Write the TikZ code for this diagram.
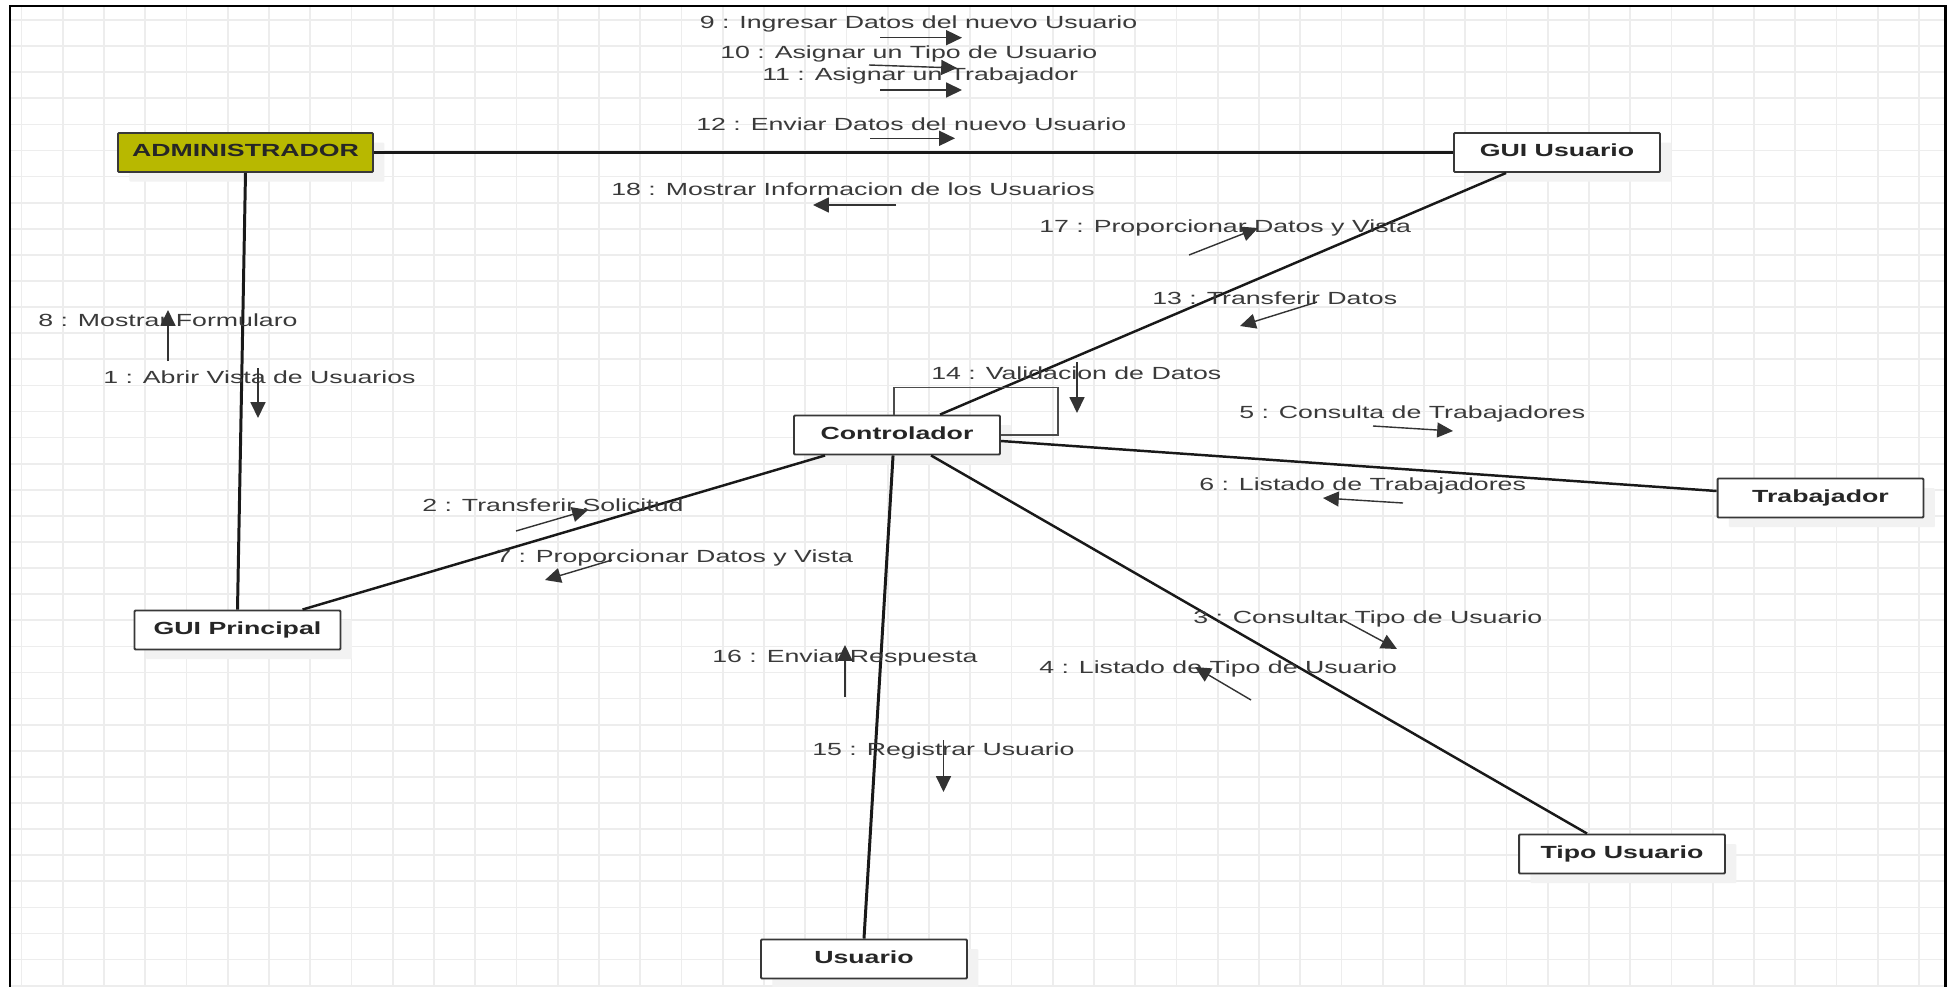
\documentclass[tikz,border=0pt]{standalone}
\usepackage{fontspec}
\setmainfont{Liberation Sans}[FakeStretch=1.52]
\usetikzlibrary{arrows.meta,calc,shadows}

\definecolor{oliva}{RGB}{184,184,0}
\definecolor{tinta}{RGB}{58,58,58}

\tikzset{
  objeto/.style={draw=black!78, line width=1.1pt, fill=white, rounded corners=0.6pt,
    minimum width=4.12cm, minimum height=0.78cm, inner sep=0pt,
    text height=0.72em, text depth=0.21em,
    font=\bfseries, text=black!85,
    drop shadow={shadow xshift=6.5pt, shadow yshift=-5.5pt, fill=black!5, opacity=1}},
  actor/.style={objeto, fill=oliva, minimum width=5.1cm},
  enlace/.style={line width=1.4pt, black!90},
  mensaje/.style={line width=0.8pt, black!80, -{Triangle[length=9pt,width=8.5pt]}},
  etiqueta/.style={anchor=base west, inner sep=0pt, text=tinta},
  rejilla/.style={black!7, line width=1pt}
}

\begin{document}
\begin{tikzpicture}[x=0.02cm, y=-0.02cm]
    % --- LIENZO: fondo, rejilla y marco ---
    \useasboundingbox (0,0) rectangle (1952,987);
    \fill[white] (0,0) rectangle (1952,987);
    \clip (0,0) rectangle (1952,987);
    \foreach \i in {0,...,46} \draw[rejilla] (21.4+41.25*\i,6) -- (21.4+41.25*\i,990);
    \foreach \j in {0,...,37} \draw[rejilla] (10,20+26.1*\j) -- (1945,20+26.1*\j);
    \draw[line width=1.7pt] (10,995) -- (10,6) -- (1945,6) -- (1945,995);

    % --- OBJETOS DE LA COLABORACION ---
    \node[actor]  (admin) at (245.5,152.5) {ADMINISTRADOR};
    \node[objeto] (guiu)  at (1557,152.5)  {GUI Usuario};
    \node[objeto] (ctrl)  at (897,435)     {Controlador};
    \node[objeto] (trab)  at (1820.5,498)  {Trabajador};
    \node[objeto] (guip)  at (237.5,630)   {GUI Principal};
    \node[objeto] (tipo)  at (1622,854)    {Tipo Usuario};
    \node[objeto] (usu)   at (864,959)     {Usuario};

    % --- ENLACES ENTRE OBJETOS ---
    \draw[enlace] (admin.east) -- (guiu.west);
    \draw[enlace, line width=1.7pt] (admin.south) -- (guip.north);
    \draw[enlace] ($(guip.north west)+(169,0)$) -- ($(ctrl.south west)+(32,0)$);
    \draw[enlace] ($(ctrl.north west)+(147,0)$) -- ($(guiu.south west)+(53,0)$);
    \draw[enlace] ($(ctrl.east)+(0,6)$) -- ($(trab.west)+(0,-7)$);
    \draw[enlace] ($(ctrl.south west)+(138,0)$) -- ($(tipo.north west)+(69,0)$);
    \draw[enlace, line width=1.7pt] ($(ctrl.south west)+(100,0)$) -- (usu.north);
    % autollamada del controlador
    \draw[line width=0.9pt, black!70] ($(ctrl.north west)+(101,0)$) |- ++(164,-27) |- (ctrl.east);

    % --- MENSAJES: numero/etiqueta (x,y)/flecha de (x,y) a (x,y) ---
    \foreach \n/\lx/\ly/\sx/\sy/\ex/\ey/\txt in {
        1/103/383/258/368/258/418/{1 : Abrir Vista de Usuarios},
        2/422/511/516/531/588/510/{2 : Transferir Solicitud},
        3/1193/623/1343/620/1397/649/{3 : Consultar Tipo de Usuario},
        4/1039/673.5/1251/700/1195/667/{4 : Listado de Tipo de Usuario},
        5/1239/418/1373/426/1453/431/{5 : Consulta de Trabajadores},
        6/1199/490/1403/503/1323/498/{6 : Listado de Trabajadores},
        7/496/562/612/560/545/580/{7 : Proporcionar Datos y Vista},
        8/38/326/168/361/168/310/{8 : Mostrar Formularo},
        9/699.5/29/880/37.7/962/37.7/{9 : Ingresar Datos del nuevo Usuario},
        10/720/58/869/65/957/68/{10 : Asignar un Tipo de Usuario},
        11/762/80.5/880/90/962/90/{11 : Asignar un Trabajador},
        12/696/130/870/138.3/955/138.3/{12 : Enviar Datos del nuevo Usuario},
        13/1152/304/1317/302/1240/326/{13 : Transferir Datos},
        14/931/379/1077/362/1077/413/{14 : Validacion de Datos},
        15/812/755.5/943.5/740/943.5/792/{15 : Registrar Usuario},
        16/712/662/845/697/845/645/{16 : Enviar Respuesta},
        17/1039/232/1189/255/1258/228/{17 : Proporcionar Datos y Vista},
        18/611/195.5/896/205/813/205/{18 : Mostrar Informacion de los Usuarios}}
    {
        \node[etiqueta] (m\n) at (\lx,\ly) {\txt};
        \coordinate (m\n-a) at (\sx,\sy);
        \coordinate (m\n-b) at (\ex,\ey);
        \draw[mensaje] (m\n-a) -- (m\n-b);
    }
\end{tikzpicture}
\end{document}
